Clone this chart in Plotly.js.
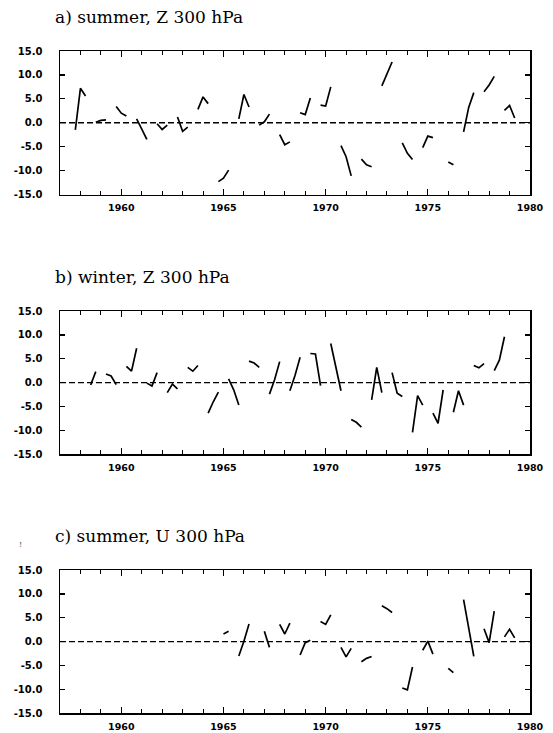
<!DOCTYPE html>
<html>
<head>
<meta charset="utf-8">
<script src="https://cdn.plot.ly/plotly-3.0.1.min.js"></script>
<style>
html,body{margin:0;padding:0;background:#fff;}
#chart{width:553px;height:733px;}
</style>
</head>
<body>
<div id="chart"></div>
<script>
// ---------- DATA ----------
// a) summer (JJA), Z 300 hPa
const yearsA = [1958,1959,1960,1961,1962,1963,1964,1965,1966,1967,1968,1969,1970,1971,1972,1973,1974,1975,1976,1977,1978,1979];
const junA = [-1.5, 0.1, 3.4, 0.8,-0.2, 1.2, 2.8,-12.3, 0.8,-0.5,-2.5, 2.1, 3.7,-4.8,-7.6, 7.7,-4.2,-5.2, null,-1.9, 6.5, 2.6];
const julA = [ 7.2, 0.5, 2.0,-1.3,-1.4,-1.8, 5.4,-11.6, 5.9, 0.2,-4.6, 1.7, 3.5,-7.1,-8.8,10.3,-6.4,-2.8,-8.2, 3.2, 7.9, 3.6];
const augA = [ 5.6, 0.6, 1.4,-3.5,-0.5,-0.9, 4.0, -9.9, 3.3, 1.8,-4.0, 5.2, 7.5,-11.1,-9.2,12.7,-7.7,-3.1,-8.8, 6.3, 9.7, 1.0];

// b) winter (DJF), Z 300 hPa
const yearsB = [1958,1959,1960,1961,1962,1963,1964,1965,1966,1967,1968,1969,1970,1971,1972,1973,1974,1975,1976,1977,1978];
const decB = [null, 1.8, 3.4,-0.1,-2.1, 3.2,-6.4, 0.8, 4.5,-2.4,-1.7, 6.1, 8.2,-7.7,-3.6, 2.1,-10.4,-6.4,-6.2, 3.6, 2.5];
const janB = [-0.5, 1.4, 2.4,-0.7,-0.3, 2.4,-4.0,-1.5, 4.1, 0.6, 1.5, 6.0, 3.0,-8.3, 3.2,-2.2, -2.7,-8.5,-1.7, 3.1, 4.7];
const febB = [ 2.3,-0.4, 7.2, 2.1,-1.3, 3.6,-2.0,-4.7, 3.2, 4.4, 5.3,-0.6,-1.7,-9.3,-2.1,-2.9, -4.7,-1.5,-4.7, 4.0, 9.6];

// c) summer (JJA), U 300 hPa
const yearsC = [1965,1966,1967,1968,1969,1970,1971,1972,1973,1974,1975,1976,1977,1978,1979];
const junC = [null,-3.0, null, 3.6,-2.8, 4.2,-1.2,-4.2, 7.5, -9.7,-1.8, null, 8.8, 2.7, 1.0];
const julC = [ 1.6, 0.1, 2.2, 1.6,-0.2, 3.6,-3.2,-3.5, 6.9,-10.1, 0.1,-5.6, 2.8,-0.2, 2.6];
const augC = [ 2.2, 3.7,-1.2, 3.9, 0.3, 5.6,-1.4,-3.1, 6.1, -5.3,-2.6,-6.5,-3.1, 6.4, 0.8];

const yTickVals = [-15,-10,-5,0,5,10,15];
const yTickText = ['-15.0','-10.0','-5.0','0.0','5.0','10.0','15.0'];
const panelTitles = ['a) summer, Z 300 hPa','b) winter, Z 300 hPa','c) summer, U 300 hPa'];

// month offsets within the year (position of the 3 months of each season)
const summerOffsets = [-0.25, 0, 0.25];
const winterOffsets = [0.25, 0.5, 0.75];

// ---------- BUILD ----------
function segs(years, m1, m2, m3, offs) {
  const x = [], y = [];
  years.forEach((yr, i) => {
    [m1[i], m2[i], m3[i]].forEach((v, k) => { x.push(yr + offs[k]); y.push(v); });
    x.push(null); y.push(null);
  });
  return {x, y};
}

const sA = segs(yearsA, junA, julA, augA, summerOffsets);
const sB = segs(yearsB, decB, janB, febB, winterOffsets);
const sC = segs(yearsC, junC, julC, augC, summerOffsets);

const lineStyle = {color: '#000', width: 1.7};
const traces = [
  {x: sA.x, y: sA.y, xaxis: 'x', yaxis: 'y', mode: 'lines', line: lineStyle, connectgaps: false, hoverinfo: 'skip'},
  {x: sB.x, y: sB.y, xaxis: 'x2', yaxis: 'y2', mode: 'lines', line: lineStyle, connectgaps: false, hoverinfo: 'skip'},
  {x: sC.x, y: sC.y, xaxis: 'x3', yaxis: 'y3', mode: 'lines', line: lineStyle, connectgaps: false, hoverinfo: 'skip'}
];

const W = 553, H = 733;
const xDom = [60 / W, 530 / W];
const panels = [[51, 194.5], [311, 454.3], [570, 713.3]]; // top, bottom in px
const yDoms = panels.map(p => [1 - p[1] / H, 1 - p[0] / H]);

function xAxis(anchor) {
  return {
    domain: xDom, anchor: anchor, range: [1957, 1980],
    tickmode: 'linear', tick0: 1960, dtick: 5,
    ticks: 'inside', ticklen: 6, tickwidth: 1.3, tickcolor: '#000',
    minor: {tickmode: 'linear', tick0: 1957, dtick: 1, ticks: 'inside', ticklen: 4, tickwidth: 1, tickcolor: '#000', showgrid: false},
    showline: true, linewidth: 1.5, linecolor: '#000', mirror: 'ticks',
    showgrid: false, zeroline: false,
    tickfont: {family: 'DejaVu Sans', size: 9.5, color: '#000', weight: 'bold'},
    ticklabelstandoff: 4
  };
}
function yAxis(anchor, dom) {
  return {
    domain: dom, anchor: anchor, range: [-15, 15],
    tickmode: 'array', tickvals: yTickVals, ticktext: yTickText,
    ticks: 'inside', ticklen: 5, tickwidth: 1.3, tickcolor: '#000',
    showline: true, linewidth: 1.5, linecolor: '#000', mirror: 'ticks',
    showgrid: false, zeroline: false,
    tickfont: {family: 'DejaVu Sans', size: 10, color: '#000', weight: 'bold'},
    ticklabelstandoff: 14
  };
}

const shapes = ['y', 'y2', 'y3'].map((ya, i) => ({
  type: 'line', xref: ['x', 'x2', 'x3'][i], yref: ya,
  x0: 1957, x1: 1980, y0: 0, y1: 0,
  line: {color: '#000', width: 1.3, dash: '6px,3px'}
}));

const titleCenters = [17.5, 277, 536];
const annotations = panelTitles.map((t, i) => ({
  text: t, xref: 'paper', yref: 'paper', x: 53 / W, y: 1 - titleCenters[i] / H,
  xanchor: 'left', yanchor: 'middle', showarrow: false,
  font: {family: 'DejaVu Serif', size: 17, color: '#000'}
}));
annotations.push({
  text: '!', xref: 'paper', yref: 'paper', x: 20 / W, y: 1 - 544 / H,
  xanchor: 'center', yanchor: 'middle', showarrow: false,
  font: {family: 'DejaVu Serif', size: 8, color: '#444'}
});

const layout = {
  width: W, height: H,
  margin: {l: 0, r: 0, t: 0, b: 0},
  paper_bgcolor: '#fff', plot_bgcolor: '#fff',
  showlegend: false,
  xaxis: xAxis('y'), yaxis: yAxis('x', yDoms[0]),
  xaxis2: xAxis('y2'), yaxis2: yAxis('x2', yDoms[1]),
  xaxis3: xAxis('y3'), yaxis3: yAxis('x3', yDoms[2]),
  shapes: shapes,
  annotations: annotations
};

Plotly.newPlot('chart', traces, layout, {staticPlot: true, displayModeBar: false});
</script>
</body>
</html>
